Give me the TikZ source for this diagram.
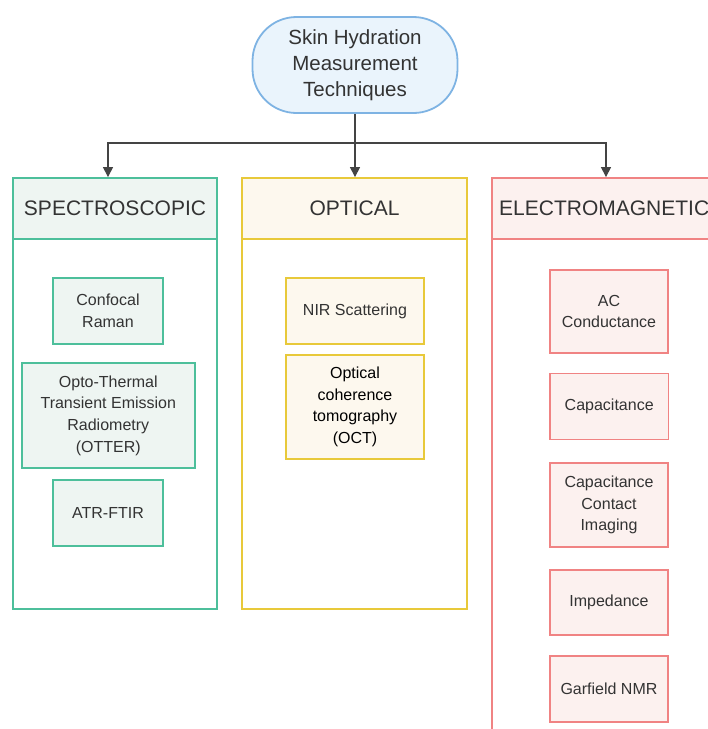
\documentclass[tikz,border=0pt]{standalone}
\usepackage{fontspec}
\setmainfont{Liberation Sans}
\usetikzlibrary{arrows.meta}

\definecolor{txt}{HTML}{333333}
\definecolor{wire}{HTML}{444444}
\definecolor{blueline}{HTML}{7EB3E3}
\definecolor{bluefill}{HTML}{EAF4FC}
\definecolor{greenline}{HTML}{4DBF9B}
\definecolor{greenfill}{HTML}{EEF5F2}
\definecolor{yellowline}{HTML}{E8C93A}
\definecolor{yellowfill}{HTML}{FDF8EE}
\definecolor{redline}{HTML}{F08383}
\definecolor{redfill}{HTML}{FCF1EF}

\tikzset{
  column/.style={draw=#1, line width=1.8pt, fill=white, inner sep=0pt},
  header/.style={draw=#1, line width=1.8pt, inner sep=0pt,
    font=\fontsize{21}{25}\selectfont, text=txt},
  item/.style={draw=#1, line width=1.8pt, inner sep=0pt, align=center,
    font=\fontsize{16}{21.7}\selectfont, text=txt},
  link/.style={draw=wire, line width=1.1pt, -{Triangle[length=10pt,width=10pt]}},
}

\begin{document}
\begin{tikzpicture}[x=1pt,y=-1pt]
\useasboundingbox (0,0) rectangle (708,729);
\clip (0,0) rectangle (708,729);

% root
\node[draw=blueline, fill=bluefill, line width=1.8pt, rounded corners=44pt,
  minimum width=205pt, minimum height=96pt, inner sep=0pt, align=center,
  font=\fontsize{20.5}{26}\selectfont, text=txt] (root) at (355,65)
  {Skin Hydration\\Measurement\\Techniques};

% columns
\node[column=greenline, minimum width=204pt, minimum height=431pt] (spec) at (115,393.5) {};
\node[header=greenline, fill=greenfill, minimum width=204pt, minimum height=61pt] (spech) at (115,208.5) {SPECTROSCOPIC};

\node[column=yellowline, minimum width=225pt, minimum height=431pt] (opt) at (354.5,393.5) {};
\node[header=yellowline, fill=yellowfill, minimum width=225pt, minimum height=61pt] (opth) at (354.5,208.5) {OPTICAL};

\node[column=redline, minimum width=228pt, minimum height=582pt] (em) at (606,469) {};
\node[header=redline, fill=redfill, minimum width=228pt, minimum height=61pt] (emh) at (606,208.5) {};
\node[anchor=west, inner sep=0pt, font=\fontsize{21}{25}\selectfont, text=txt] (emt) at (499,208.5) {ELECTROMAGNETIC};

% spectroscopic items
\node[item=greenline, fill=greenfill, minimum width=110pt, minimum height=66pt] (raman) at (108,311) {Confocal\\Raman};
\node[item=greenline, fill=greenfill, minimum width=173pt, minimum height=105pt] (otter) at (108.3,415.5) {Opto-Thermal\\Transient Emission\\Radiometry\\(OTTER)};
\node[item=greenline, fill=greenfill, minimum width=110pt, minimum height=66pt] (atr) at (108,513) {ATR-FTIR};

% optical items
\node[item=yellowline, fill=yellowfill, minimum width=138pt, minimum height=66pt] (nir) at (355,311) {NIR Scattering};
\node[item=yellowline, fill=yellowfill, minimum width=138pt, minimum height=104pt, text=black] (oct) at (355,407) {Optical\\coherence\\tomography\\(OCT)};

% electromagnetic items
\node[item=redline, fill=redfill, minimum width=118pt, minimum height=83pt] (ac) at (609,311.5) {AC\\Conductance};
\node[item=redline, fill=redfill, minimum width=118.4pt, minimum height=66pt] (cap) at (609.2,406.5) {Capacitance};
\node[item=redline, fill=redfill, minimum width=118pt, minimum height=84pt] (cci) at (609,505) {Capacitance\\Contact\\Imaging};
\node[item=redline, fill=redfill, minimum width=118pt, minimum height=65pt] (imp) at (609,602.5) {Impedance};
\node[item=redline, fill=redfill, minimum width=118pt, minimum height=66pt] (nmr) at (609,689) {Garfield NMR};

% connectors
\coordinate (fork) at (355,143);
\draw[link] (root.south) -- ([xshift=0.5pt]opth.north);
\draw[link] (fork) -| ([xshift=-7pt]spech.north);
\draw[link] (fork) -| (emh.north);
\end{tikzpicture}
\end{document}
